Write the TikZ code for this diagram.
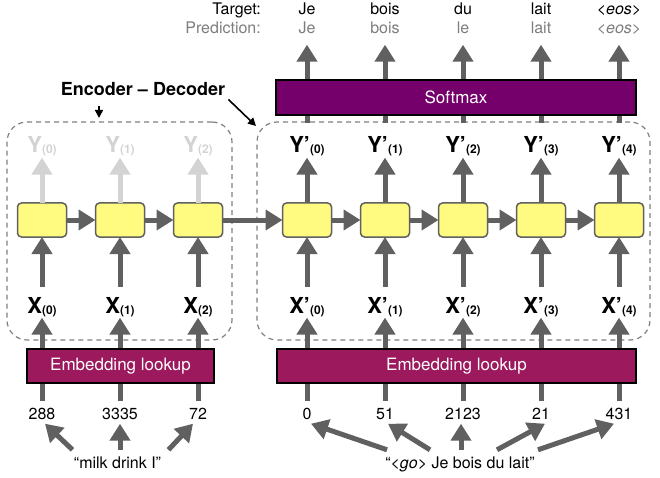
\documentclass[tikz,border=0pt]{standalone}
\usepackage{fontspec}
\setmainfont{TeX Gyre Heros}
\usetikzlibrary{arrows.meta,positioning,calc}
\definecolor{arrgray}{RGB}{96,96,96}
\definecolor{ghost}{RGB}{211,211,211}
\definecolor{cellyellow}{RGB}{255,250,128}
\definecolor{softpurple}{RGB}{117,0,107}
\definecolor{embedred}{RGB}{155,25,92}
\definecolor{predgray}{RGB}{125,125,125}
\tikzset{
  cell/.style={draw=arrgray,line width=1.5pt,rounded corners=4pt,fill=cellyellow,minimum width=49pt,minimum height=34pt,inner sep=0pt,outer sep=0pt},
  layer/.style={draw=black,line width=1.8pt,text=white,font=\fontsize{17}{20}\selectfont,minimum height=35pt,inner sep=0pt},
  group/.style={draw=arrgray!80,dash pattern=on 5pt off 4pt,line width=1.2pt,rounded corners=20pt},
  vec/.style={font=\fontsize{22}{24}\selectfont\bfseries,inner sep=1pt},
  word/.style={font=\fontsize{16}{18}\selectfont,inner sep=1pt,text height=12pt,text depth=3.5pt},
  arrow/.style={-{Triangle[width=20pt,length=17pt]},line width=5pt,draw=arrgray},
  stem/.style={line width=5pt,draw=arrgray},
  pointer/.style={-{Triangle[width=8pt,length=8pt]},line width=1.6pt,draw=black}
}
\newcommand{\vsub}[1]{\raisebox{-1pt}{\fontsize{12}{12}\selectfont(#1)}}

\begin{document}
\begin{tikzpicture}[x=1pt,y=-1pt]
  \useasboundingbox (0,0) rectangle (660,478);
  \coordinate (rowtgt) at (0,15);
  \coordinate (rowpred) at (0,34);
  \coordinate (rowy) at (0,153);
  \coordinate (rowx) at (0,313);
  \coordinate (rownum) at (0,419);

  \node (encgrp) [group,minimum width=225pt,minimum height=218pt] at (119.5,231) {};
  \node (decgrp) [group,minimum width=393pt,minimum height=218pt] at (453.5,231) {};

  % encoder and decoder cells
  \node (e0) [cell] at (42,220) {};
  \node (e1) [cell,right=29pt of e0] {};
  \node (e2) [cell,right=29pt of e1] {};
  \node (d0) [cell,right=60pt of e2] {};
  \node (d1) [cell,right=29pt of d0] {};
  \node (d2) [cell,right=29pt of d1] {};
  \node (d3) [cell,right=29pt of d2] {};
  \node (d4) [cell,right=29pt of d3] {};

  \node (embE) [layer,fill=embedred,minimum width=187pt,minimum height=34pt] at (120.5,366) {Embedding lookup};
  \node (embD) [layer,fill=embedred,minimum width=359pt,minimum height=34pt] at (456.5,366) {Embedding lookup};

  \foreach \i/\n in {0/288,1/3335,2/72} {
    \node (x\i) [vec,anchor=base] at (e\i |- rowx) {X\vsub{\i}};
    \node (y\i) [vec,anchor=base,text=ghost] at (e\i |- rowy) {Y\vsub{\i}};
    \node (n\i) [word,anchor=base] at (e\i |- rownum) {\n};
    \draw[arrow,shorten <=9pt] (x\i.north -| e\i) -- (e\i.south);
    \draw[arrow,draw=ghost] (e\i.north) -- (y\i.south -| e\i);
    \draw[arrow] (embE.north -| e\i) -- (x\i.south -| e\i);
    \draw[stem,shorten <=5pt] (n\i.north) -- (embE.south -| n\i);
  }
  \foreach \i/\n in {0/0,1/51,2/2123,3/21,4/431} {
    \node (xp\i) [vec,anchor=base] at (d\i |- rowx) {X’\vsub{\i}};
    \node (yp\i) [vec,anchor=base] at (d\i |- rowy) {Y’\vsub{\i}};
    \node (m\i) [word,anchor=base] at (d\i |- rownum) {\n};
    \draw[arrow,shorten <=9pt] (xp\i.north -| d\i) -- (d\i.south);
    \draw[arrow] (d\i.north) -- (yp\i.south -| d\i);
    \draw[arrow] (embD.north -| d\i) -- (xp\i.south -| d\i);
    \draw[stem,shorten <=5pt] (m\i.north) -- (embD.south -| m\i);
  }

  \draw[arrow] (e0) -- (e1);
  \draw[arrow] (e1) -- (e2);
  \draw[arrow] (e2) -- (d0);
  \draw[arrow] (d0) -- (d1);
  \draw[arrow] (d1) -- (d2);
  \draw[arrow] (d2) -- (d3);
  \draw[arrow] (d3) -- (d4);

  % outputs
  \node (tgtlbl) [word,anchor=base east] at (262,15) {Target:};
  \node (predlbl) [word,anchor=base east,text=predgray] at (262,34) {Prediction:};
  \foreach \i/\t/\p in {0/Je/Je,1/bois/bois,2/du/le,3/lait/lait,4/{\textit{<eos>}}/{\textit{<eos>}}} {
    \node (tg\i) [word,anchor=base] at (d\i |- rowtgt) {\t};
    \node (pr\i) [word,anchor=base,text=predgray] at (d\i |- rowpred) {\p};
    \draw[arrow,shorten <=13pt,shorten >=6pt] (yp\i.north -| d\i) -- (pr\i.south -| d\i);
  }
  \node (softmax) [layer,fill=softpurple,minimum width=360pt] at (456,97.5) {Softmax};

  % inputs
  \node (srcE) [word,anchor=base] at (117.5,468) {“milk drink I”};
  \node (srcD) [word,anchor=base] at (460,468) {“\textit{<go>} Je bois du lait”};
  \draw[arrow] ([xshift=-45pt,yshift=5pt]srcE.north) -- ([xshift=3pt]n0.south);
  \draw[arrow] ([xshift=2.5pt,yshift=5pt]srcE.north) -- (n1.south);
  \draw[arrow] ([xshift=51pt,yshift=5pt]srcE.north) -- ([xshift=-5pt]n2.south);
  \draw[arrow] ([xshift=-73pt,yshift=5pt]srcD.north) -- ([xshift=4pt]m0.south);
  \draw[arrow] ([xshift=-30pt,yshift=5pt]srcD.north) -- ([xshift=3pt]m1.south);
  \draw[arrow] ([xshift=1pt,yshift=5pt]srcD.north) -- ([xshift=-2pt]m2.south);
  \draw[arrow] ([xshift=37pt,yshift=5pt]srcD.north) -- ([xshift=4pt]m3.south);
  \draw[arrow] ([xshift=78pt,yshift=5pt]srcD.north) -- ([xshift=-5pt]m4.south);

  \node (encdec) [font=\fontsize{18}{20}\selectfont\bfseries,anchor=base,inner sep=1pt] at (143,96) {Encoder – Decoder};
  \coordinate (encin) at (99,118);
  \coordinate (decin) at (256,126);
  \draw[pointer,shorten <=9pt] (encdec.south -| encin) -- (encin);
  \draw[pointer,shorten <=3pt] (encdec.south east) -- (decin);
\end{tikzpicture}
\end{document}
